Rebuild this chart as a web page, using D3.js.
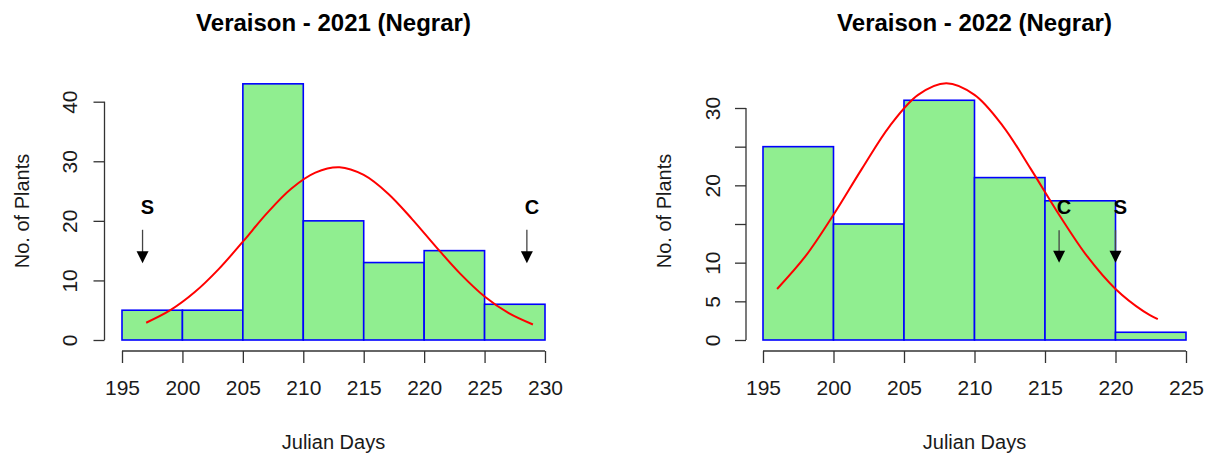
<!DOCTYPE html>
<html>
<head>
<meta charset="utf-8">
<script src="https://cdn.jsdelivr.net/npm/d3@7"></script>
<style>
  html, body { margin: 0; padding: 0; background: #fff; }
  svg { display: block; font-family: "Liberation Sans", Arial, sans-serif; }
</style>
</head>
<body>
<svg id="chart" width="1206" height="459"></svg>
<script>
// ---------- DATA ----------
const titles = ["Veraison - 2021 (Negrar)", "Veraison - 2022 (Negrar)"];
const xLabel = "Julian Days";
const yLabel = "No. of Plants";

// 2021 histogram
const bins2021 = [195, 200, 205, 210, 215, 220, 225, 230];
const counts2021 = [5, 5, 43, 20, 13, 15, 6];
const xTicks2021 = [195, 200, 205, 210, 215, 220, 225, 230];
const yTicks2021 = [0, 10, 20, 30, 40];
const yTickLabels2021 = ["0", "10", "20", "30", "40"];
const curveDays2021 = [197, 199, 201, 203, 205, 207, 209, 211, 213, 215, 217, 219, 221, 223, 225, 227, 229];
const curveVals2021 = [2.9, 5.0, 8.0, 11.9, 16.5, 21.3, 25.4, 28.1, 29.0, 27.7, 24.6, 20.3, 15.6, 11.1, 7.3, 4.5, 2.6];
const markers2021 = ["S", "C"];
const markerDays2021 = [196.7, 228.5];
const markerTop2021 = [18.5, 18.5];
const markerTip2021 = [12.9, 12.9];
const markerLabelY2021 = [22.4, 22.4];

// 2022 histogram
const bins2022 = [195, 200, 205, 210, 215, 220, 225];
const counts2022 = [25, 15, 31, 21, 18, 1];
const xTicks2022 = [195, 200, 205, 210, 215, 220, 225];
const yTicks2022 = [0, 5, 10, 15, 20, 25, 30];
const yTickLabels2022 = ["0", "5", "10", "", "20", "", "30"];
const curveDays2022 = [196, 198, 200, 202, 204, 206, 208, 210, 212, 214, 216, 218, 220, 222, 223];
const curveVals2022 = [6.6, 10.8, 16.2, 22.1, 27.7, 31.7, 33.2, 31.7, 27.7, 22.1, 16.2, 10.8, 6.6, 3.7, 2.7];
const markers2022 = ["C", "S"];
const markerDays2022 = [216.0, 220.0];
const markerTop2022 = [14.2, 14.2];
const markerTip2022 = [10.0, 10.0];
const markerLabelY2022 = [17.2, 17.2];

// ---------- DRAW ----------
const svg = d3.select("#chart");
const axisColor = "#333";
const textColor = "#1a1a1a";

function panel(cfg) {
  const x = d3.scaleLinear().domain(cfg.xDomain).range(cfg.xRange);
  const y = d3.scaleLinear().domain(cfg.yDomain).range(cfg.yRange);
  const g = svg.append("g");

  // bars
  const bars = cfg.counts.map((c, i) => ({ x0: cfg.bins[i], x1: cfg.bins[i + 1], c }));
  g.selectAll("rect.bar").data(bars).enter().append("rect")
    .attr("x", d => x(d.x0)).attr("width", d => x(d.x1) - x(d.x0))
    .attr("y", d => y(d.c)).attr("height", d => y(0) - y(d.c))
    .attr("fill", "#90EE90").attr("stroke", "#0000FF").attr("stroke-width", 1.6);

  // curve
  const line = d3.line().x(d => x(d[0])).y(d => y(d[1])).curve(d3.curveCatmullRom);
  g.append("path").datum(cfg.curveDays.map((d, i) => [d, cfg.curveVals[i]]))
    .attr("d", line).attr("fill", "none").attr("stroke", "#FF0000").attr("stroke-width", 2);

  // x axis
  const xAxisY = cfg.xAxisY;
  const xa = g.append("g").attr("transform", `translate(0,${xAxisY})`)
    .call(d3.axisBottom(x).tickValues(cfg.xTicks).tickSize(12).tickSizeOuter(0).tickPadding(17).tickFormat(d3.format("d")));
  xa.select(".domain").attr("stroke", axisColor).attr("stroke-width", 1.3)
    .attr("d", `M${x(cfg.xTicks[0])},0H${x(cfg.xTicks[cfg.xTicks.length - 1])}`);
  xa.selectAll(".tick line").attr("stroke", axisColor).attr("stroke-width", 1.3);
  xa.selectAll(".tick text").attr("fill", textColor).style("font-size", "21px")
    .style("font-family", '"Liberation Sans", Arial, sans-serif');

  // y axis
  const ya = g.append("g").attr("transform", `translate(${cfg.yAxisX},0)`)
    .call(d3.axisLeft(y).tickValues(cfg.yTicks).tickSize(11).tickSizeOuter(0)
      .tickFormat((d, i) => cfg.yTickLabels[i]));
  ya.select(".domain").attr("stroke", axisColor).attr("stroke-width", 1.3)
    .attr("d", `M0,${y(cfg.yTicks[0])}V${y(cfg.yTicks[cfg.yTicks.length - 1])}`);
  ya.selectAll(".tick line").attr("stroke", axisColor).attr("stroke-width", 1.3);
  ya.selectAll(".tick text")
    .attr("x", null).attr("dy", null)
    .attr("transform", `translate(${cfg.yTickBaseline - cfg.yAxisX},0) rotate(-90)`)
    .attr("text-anchor", "middle")
    .attr("fill", textColor).style("font-size", "21px")
    .style("font-family", '"Liberation Sans", Arial, sans-serif');

  // axis titles
  g.append("text").attr("x", (cfg.xRange[0] + cfg.xRange[1]) / 2).attr("y", 449)
    .attr("text-anchor", "middle").attr("fill", textColor).style("font-size", "20px")
    .text(xLabel);
  g.append("text").attr("transform", `translate(${cfg.yLabelBaseline},211) rotate(-90)`)
    .attr("text-anchor", "middle").attr("fill", textColor).style("font-size", "20px")
    .text(yLabel);

  // title
  g.append("text").attr("x", (cfg.xRange[0] + cfg.xRange[1]) / 2).attr("y", 31)
    .attr("text-anchor", "middle").attr("fill", "#000").style("font-size", "24px")
    .style("font-weight", "bold").text(cfg.title);

  // markers
  cfg.markers.forEach((m, i) => {
    const mx = x(cfg.markerDays[i]);
    const top = y(cfg.markerTop[i]);
    const tip = y(cfg.markerTip[i]);
    g.append("line").attr("x1", mx).attr("x2", mx).attr("y1", top).attr("y2", tip - 10)
      .attr("stroke", "#444").attr("stroke-width", 1.3);
    g.append("path").attr("d", `M${mx - 6},${tip - 12}L${mx + 6},${tip - 12}L${mx},${tip}Z`)
      .attr("fill", "#000");
    g.append("text").attr("x", mx + 5).attr("y", y(cfg.markerLabelY[i]) + 7)
      .attr("text-anchor", "middle").attr("fill", "#000").style("font-size", "20px")
      .style("font-weight", "bold").text(m);
  });
}

panel({
  title: titles[0], bins: bins2021, counts: counts2021,
  xDomain: [195, 230], xRange: [122, 545], yDomain: [0, 40], yRange: [340, 101.7],
  xTicks: xTicks2021, yTicks: yTicks2021, yTickLabels: yTickLabels2021,
  curveDays: curveDays2021, curveVals: curveVals2021,
  markers: markers2021, markerDays: markerDays2021, markerTop: markerTop2021,
  markerTip: markerTip2021, markerLabelY: markerLabelY2021,
  xAxisY: 351, yAxisX: 104.5, yTickBaseline: 77, yLabelBaseline: 29
});

panel({
  title: titles[1], bins: bins2022, counts: counts2022,
  xDomain: [195, 225], xRange: [763, 1186], yDomain: [0, 30], yRange: [340, 108],
  xTicks: xTicks2022, yTicks: yTicks2022, yTickLabels: yTickLabels2022,
  curveDays: curveDays2022, curveVals: curveVals2022,
  markers: markers2022, markerDays: markerDays2022, markerTop: markerTop2022,
  markerTip: markerTip2022, markerLabelY: markerLabelY2022,
  xAxisY: 351, yAxisX: 746, yTickBaseline: 720, yLabelBaseline: 671
});
</script>
</body>
</html>
